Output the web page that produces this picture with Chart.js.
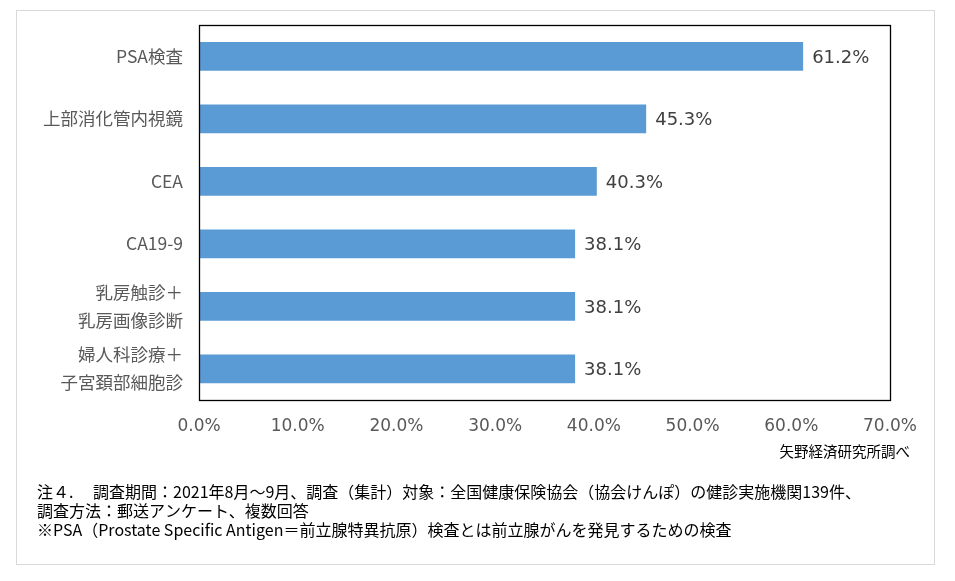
<!DOCTYPE html>
<html><head><meta charset="utf-8">
<script src="https://cdn.jsdelivr.net/npm/chart.js@4/dist/chart.umd.min.js"></script>
<style>html,body{margin:0;padding:0;background:#fff}#wrap{width:955px;height:581px;position:relative}</style>
</head><body><div id="wrap"><canvas id="c" width="955" height="581"></canvas></div>
<script>
const categories = ["PSA検査", "上部消化管内視鏡", "CEA", "CA19-9", ["乳房触診＋", "乳房画像診断"], ["婦人科診療＋", "子宮頚部細胞診"]];
const values = [61.2, 45.3, 40.3, 38.1, 38.1, 38.1];
const xTicks = [0, 10, 20, 30, 40, 50, 60, 70];
const sourceText = "矢野経済研究所調べ";
const noteLines = [
  "注４.　 調査期間：2021年8月～9月、調査（集計）対象：全国健康保険協会（協会けんぽ）の健診実施機関139件、",
  "調査方法：郵送アンケート、複数回答",
  "※PSA（Prostate Specific Antigen＝前立腺特異抗原）検査とは前立腺がんを発見するための検査"
];
const FONT = '"Noto Sans CJK JP", "Noto Sans", sans-serif';
const NUMFONT = '"DejaVu Sans", "Noto Sans CJK JP", sans-serif';

const decor = {
  id: 'decor',
  beforeDraw(chart) {
    const ctx = chart.ctx;
    ctx.save();
    ctx.fillStyle = '#fff';
    ctx.fillRect(0, 0, chart.width, chart.height);
    ctx.strokeStyle = '#d9d9d9';
    ctx.lineWidth = 1;
    ctx.strokeRect(16.5, 10.5, 918, 554);
    ctx.restore();
  },
  afterDraw(chart) {
    const ctx = chart.ctx;
    const a = chart.chartArea;
    ctx.save();
    ctx.strokeStyle = '#000';
    ctx.lineWidth = 1.3;
    ctx.strokeRect(Math.round(a.left) + 0.5, Math.round(a.top) + 0.5, Math.round(a.right - a.left), Math.round(a.bottom - a.top));
    // data labels
    const meta = chart.getDatasetMeta(0);
    ctx.font = '18px ' + NUMFONT;
    ctx.fillStyle = '#404040';
    ctx.textBaseline = 'middle';
    ctx.textAlign = 'left';
    meta.data.forEach((bar, i) => {
      ctx.fillText(values[i].toFixed(1) + '%', bar.x + 9, bar.y + 2);
    });
    // source
    ctx.font = '14.5px ' + FONT;
    ctx.fillStyle = '#000';
    ctx.textAlign = 'right';
    ctx.fillText(sourceText, 910, 451);
    // notes
    ctx.font = '16px ' + FONT;
    ctx.textAlign = 'left';
    noteLines.forEach((t, i) => ctx.fillText(t, 37, 492 + i * 19));
    ctx.restore();
  }
};

new Chart(document.getElementById('c'), {
  type: 'bar',
  data: {
    labels: categories,
    datasets: [{
      data: values,
      backgroundColor: '#5B9BD5',
      borderWidth: 0,
      barPercentage: 0.46,
      categoryPercentage: 1.0
    }]
  },
  options: {
    indexAxis: 'y',
    responsive: false,
    animation: false,
    devicePixelRatio: 1,
    layout: { padding: { left: 16, top: 25, right: 65, bottom: 141 } },
    plugins: { legend: { display: false }, tooltip: { enabled: false } },
    scales: {
      x: {
        min: 0, max: 70,
        afterBuildTicks(scale) { scale.ticks = xTicks.map(v => ({ value: v })); },
        afterFit(scale) { scale.height = 40; scale.paddingLeft = 0; scale.paddingRight = 0; },
        grid: { display: false, drawTicks: false },
        border: { display: false },
        ticks: {
          padding: 16,
          color: '#595959',
          font: { size: 17, family: NUMFONT },
          callback: v => Number(v).toFixed(1) + '%'
        }
      },
      y: {
        afterFit(scale) { scale.width = 183; scale.paddingTop = 0; scale.paddingBottom = 0; },
        grid: { display: false, drawTicks: false },
        border: { display: false },
        ticks: {
          padding: 16,
          color: '#595959',
          font: { size: 17.5, family: FONT, lineHeight: 1.6 }
        }
      }
    }
  },
  plugins: [decor]
});
</script>
</body></html>
